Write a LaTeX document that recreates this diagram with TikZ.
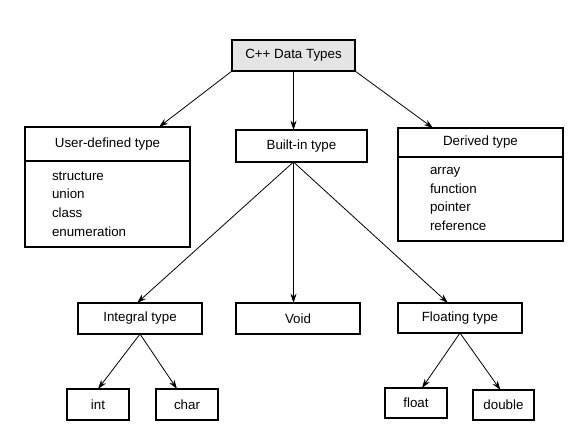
\documentclass[tikz,border=0pt]{standalone}
\usepackage{fontspec}
\setmainfont{Liberation Sans}
\usepackage{tikz}
\usetikzlibrary{positioning, calc, arrows.meta}
\newcommand{\pxu}{0.75pt}
\tikzstyle{typebox} = [rectangle, draw=black, line width=0.9pt, outer sep=0pt, inner sep=0pt, text centered, minimum height=31*\pxu]
\tikzstyle{rootbox} = [typebox, fill=gray!20]
\tikzstyle{listbox} = [rectangle, draw=black, line width=0.9pt, outer sep=0pt, inner ysep=0pt, align=left, font=\fontsize{10}{14}\selectfont]
\tikzstyle{arrow} = [line width=0.6pt, -{Stealth[length=7pt, width=4.5pt]}]

\begin{document}
\begin{tikzpicture}[x=0.75pt, y=-0.75pt, node distance=0pt]
		\useasboundingbox (0,0) rectangle (580,445);
		% top level
		\node (cpp) [rootbox, minimum width=123*\pxu] at (293.5,55.5) {C++ Data Types};
		\node (user) [typebox, minimum width=165*\pxu, minimum height=34*\pxu] at (107.5,144) {User-defined type};
		\node (userlist) [listbox, below=of user, text width=111*\pxu, inner xsep=27*\pxu, minimum height=86*\pxu] {structure\\union\\class\\enumeration};
		\node (builtin) [typebox, minimum width=131*\pxu, minimum height=32*\pxu] at (301.5,146) {Built-in type};
		\node (derived) [typebox, minimum width=165*\pxu, minimum height=29*\pxu] at (480.5,142.5) {Derived type};
		\node (derivedlist) [listbox, below=of derived, text width=101*\pxu, inner xsep=32*\pxu, minimum height=84*\pxu] {array\\function\\pointer\\reference};
		% built-in types
		\node (integral) [typebox, minimum width=124*\pxu] at (140,318.5) {Integral type};
		\node (void) [typebox, minimum width=124*\pxu] at (298,318.5) {Void};
		\node (floating) [typebox, minimum width=124*\pxu, minimum height=30*\pxu] at (460,318) {Floating type};
		\node (int) [typebox, minimum width=62*\pxu] at (98,404.5) {int};
		\node (char) [typebox, minimum width=62*\pxu] at (187,404.5) {char};
		\node (float) [typebox, minimum width=62*\pxu, minimum height=30*\pxu] at (416,403) {float};
		\node (double) [typebox, minimum width=61*\pxu, minimum height=30*\pxu] at (503.5,405) {double};
		\coordinate (hub) at (builtin.south -| cpp.south);
		\draw [arrow](cpp.south west) -- ($(user.north east)+(-31,0)$);
		\draw [arrow](cpp.south) -- (cpp.south |- builtin.north);
		\draw [arrow](cpp.south east) -- ($(derived.north west)+(35,0)$);
		\draw [arrow](hub) -- ($(integral.north)+(-3,0)$);
		\draw [arrow](hub) -- (hub |- void.north);
		\draw [arrow](hub) -- ($(floating.north)+(-12,0)$);
		\draw [arrow](integral.south) -- (int.north);
		\draw [arrow](integral.south) -- ($(char.north)+(-10,0)$);
		\draw [arrow](floating.south) -- ($(float.north)+(6,0)$);
		\draw [arrow](floating.south) -- ($(double.north)+(-3,0)$);
	\end{tikzpicture}
\end{document}
